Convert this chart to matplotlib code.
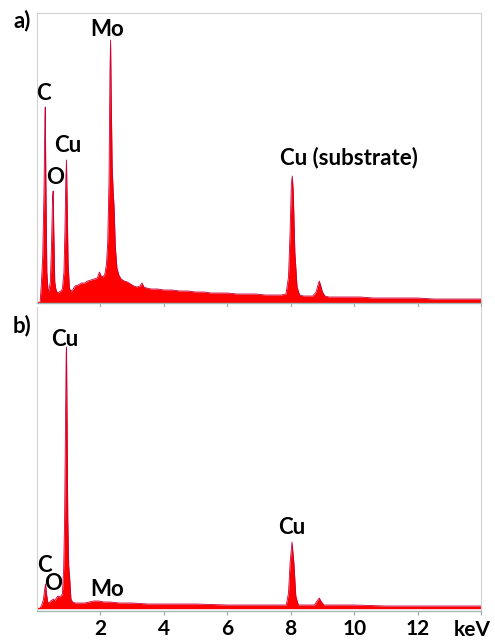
import numpy as np
import matplotlib.pyplot as plt

# EDS spectra (energy in keV, counts in arbitrary units)
energia_a = [0.10, 0.14, 0.18, 0.22, 0.25, 0.26, 0.28, 0.31, 0.35, 0.39, 0.42,
             0.46, 0.49, 0.51, 0.53, 0.56, 0.60, 0.65, 0.70, 0.75, 0.80, 0.85,
             0.88, 0.91, 0.93, 0.95, 0.98, 1.02, 1.07, 1.12, 1.20, 1.30, 1.40,
             1.50, 1.60, 1.70, 1.80, 1.90, 1.97, 2.02, 2.08, 2.14, 2.19, 2.23,
             2.27, 2.30, 2.32, 2.34, 2.37, 2.40, 2.43, 2.47, 2.52, 2.58, 2.65,
             2.75, 2.85, 2.95, 3.05, 3.15, 3.25, 3.31, 3.37, 3.45, 3.60, 3.80,
             4.00, 4.25, 4.50, 4.75, 5.00, 5.25, 5.50, 5.75, 6.00, 6.30, 6.60,
             6.90, 7.20, 7.50, 7.70, 7.85, 7.93, 7.98, 8.02, 8.05, 8.08, 8.13,
             8.20, 8.28, 8.40, 8.55, 8.70, 8.80, 8.86, 8.90, 8.94, 9.00, 9.08,
             9.20, 9.50, 9.80, 10.2, 10.6, 11.0, 11.5, 12.0, 12.5, 13.0, 13.5,
             14.0]
cuentas_a = [0, 20, 45, 110, 185, 195, 120, 30, 10, 14, 20,
             60, 105, 111, 70, 20, 12, 9, 10, 11, 13, 30,
             70, 125, 142, 100, 40, 14, 11, 12, 16, 17, 19,
             19, 21, 22, 23, 24, 30, 26, 25, 28, 38, 60,
             120, 230, 262, 205, 135, 112, 95, 55, 34, 27, 23,
             21, 20, 18, 16, 15, 16, 19, 15, 14, 13, 13,
             12, 12, 11, 11, 10, 10, 9, 9, 9, 8, 8,
             8, 7, 7, 7, 8, 25, 70, 118, 126, 110, 50,
             15, 7, 6, 6, 6, 10, 17, 21, 17, 10, 6,
             5, 5, 5, 5, 4, 4, 4, 4, 3, 3, 3,
             3]

energia_b = [0.10, 0.15, 0.20, 0.24, 0.27, 0.30, 0.34, 0.38, 0.43, 0.48, 0.52,
             0.56, 0.61, 0.66, 0.70, 0.75, 0.80, 0.84, 0.87, 0.90, 0.92, 0.93,
             0.95, 0.97, 1.00, 1.03, 1.07, 1.12, 1.20, 1.35, 1.50, 1.65, 1.80,
             1.95, 2.10, 2.30, 2.60, 3.00, 3.50, 4.00, 5.00, 6.00, 7.00, 7.60,
             7.86, 7.93, 7.98, 8.04, 8.10, 8.16, 8.24, 8.50, 8.75, 8.83, 8.90,
             8.97, 9.05, 9.50, 10.0, 11.0, 12.0, 13.0, 14.0]
cuentas_b = [0, 3, 8, 18, 24, 14, 6, 5, 7, 8, 9,
             7, 10, 12, 11, 12, 14, 38, 88, 190, 255, 261,
             180, 90, 42, 30, 9, 6, 5, 5, 5, 6, 7,
             7, 6, 6, 5, 5, 4, 4, 4, 3, 3, 3,
             3, 15, 45, 66, 45, 12, 3, 3, 3, 7, 10,
             6, 3, 3, 3, 2, 2, 2, 2]

ticks_x = [2, 4, 6, 8, 10, 12]
etiquetas_a = [('Mo', 2.22, 272), ('C', 0.20, 209), ('Cu', 0.96, 157),
               ('O', 0.58, 124), ('Cu (substrate)', 9.84, 144)]
etiquetas_b = [('Cu', 0.86, 269), ('C', 0.23, 42), ('O', 0.52, 24),
               ('Mo', 2.22, 18), ('Cu', 8.03, 80)]

plt.rcParams['font.family'] = ['Lato', 'DejaVu Sans']
rojo = '#ff0000'
borde = '#c8003c'
tam = 16

fig = plt.figure(figsize=(4.95, 6.4), dpi=100)
W, H = 495, 640

def ejes(x0, y0, x1, y1):
    return fig.add_axes([x0 / W, 1 - y1 / H, (x1 - x0) / W, (y1 - y0) / H])

ax1 = ejes(37, 13, 481, 303)
ax2 = ejes(37, 307, 481, 611)

for ax, e, c, etq in [(ax1, energia_a, cuentas_a, etiquetas_a),
                      (ax2, energia_b, cuentas_b, etiquetas_b)]:
    ax.fill_between(e, 0, c, color=rojo, linewidth=0)
    ax.plot(e, c, color=borde, linewidth=0.6)
    ax.axhline(0, color=rojo, linewidth=1.0)
    ax.set_xlim(0, 14)
    ax.set_yticks([])
    ax.set_xticks(ticks_x + [14])
    ax.tick_params(axis='x', direction='out', length=3, width=0.8,
                   color='#9aa8a8', labelsize=15)
    for s in ['left', 'right', 'top']:
        ax.spines[s].set_color('#d2d2d2')
        ax.spines[s].set_linewidth(0.8)
    ax.spines['bottom'].set_color('#9fb8b8')
    ax.spines['bottom'].set_linewidth(1.0)
    for txt, x, y in etq:
        ax.text(x, y, txt, ha='center', va='center', fontsize=tam,
                fontweight='bold', color='black')

ax1.set_ylim(-1, 289)
ax1.set_xticklabels([])
ax2.set_ylim(-3, 301)
ax2.spines['top'].set_visible(False)
ax2.set_xticklabels([str(t) for t in ticks_x] + [''], fontweight='bold')
ax2.tick_params(axis='x', pad=3)
ax2.text(13.72, -0.082, 'keV', transform=ax2.get_xaxis_transform(),
         ha='center', va='baseline', fontsize=15, fontweight='bold')

fig.text(22 / W, 1 - 21 / H, 'a)', ha='center', va='center', fontsize=tam,
         fontweight='bold')
fig.text(22 / W, 1 - 326 / H, 'b)', ha='center', va='center', fontsize=tam,
         fontweight='bold')

plt.savefig('out.png', dpi=100)
